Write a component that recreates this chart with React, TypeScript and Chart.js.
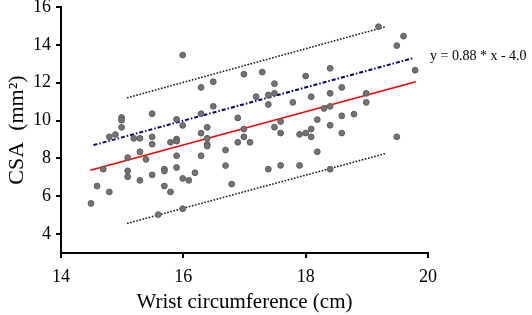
import React, { useEffect, useRef } from "react";
import { Chart, registerables } from "chart.js";

Chart.register(...registerables);

const wrist = [
  14.49, 14.59, 14.69, 14.79, 14.79, 14.89, 14.99, 14.99, 14.99, 15.09,
  15.09, 15.09, 15.19, 15.29, 15.29, 15.29, 15.39, 15.49, 15.49, 15.49,
  15.49, 15.59, 15.69, 15.69, 15.69, 15.79, 15.79, 15.89, 15.89, 15.89,
  15.89, 15.89, 15.99, 15.99, 15.99, 15.99, 16.09, 16.19, 16.29, 16.29,
  16.29, 16.29, 16.39, 16.39, 16.39, 16.39, 16.49, 16.49, 16.69, 16.69,
  16.79, 16.89, 16.89, 16.99, 16.99, 16.99, 17.09, 17.19, 17.29, 17.39,
  17.39, 17.39, 17.49, 17.49, 17.49, 17.59, 17.59, 17.59, 17.79, 17.9,
  17.9, 18.0, 18.0, 18.09, 18.09, 18.09, 18.19, 18.19, 18.3, 18.4,
  18.4, 18.4, 18.4, 18.4, 18.59, 18.59, 18.59, 18.79, 18.99, 18.99,
  19.19, 19.49, 19.49, 19.6, 19.79,
];
const csa = [
  5.62, 6.54, 7.43, 6.23, 9.14, 9.26, 10.16, 10.02, 9.64, 8.04,
  7.34, 7.03, 9.06, 9.06, 8.35, 6.84, 7.95, 10.36, 9.14, 8.75,
  7.13, 5.03, 7.43, 7.33, 6.54, 8.85, 6.23, 10.06, 9.02, 8.91,
  8.14, 7.52, 13.46, 9.74, 6.94, 5.34, 6.84, 7.24, 11.75, 10.36,
  9.33, 8.14, 9.64, 9.06, 8.74, 8.65, 12.05, 10.75, 8.44, 7.62,
  6.64, 10.14, 8.85, 12.45, 9.55, 9.14, 8.85, 11.26, 12.56, 11.35,
  10.85, 7.43, 11.95, 11.44, 9.65, 9.95, 9.34, 7.63, 10.96, 9.27,
  7.63, 12.35, 9.34, 11.26, 9.55, 9.14, 10.05, 8.35, 10.64, 12.76,
  11.44, 10.75, 9.75, 7.43, 11.75, 10.25, 9.34, 10.34, 11.44, 10.96,
  14.96, 13.96, 9.14, 14.46, 12.66,
];

const fitX = [14.48, 19.8];
const fitY = [7.37, 12.05];
const eqX = [14.53, 19.75];
const eqY = [8.7, 13.29];
const upperX = [15.08, 19.31];
const upperY = [11.2, 14.96];
const lowerX = [15.08, 19.31];
const lowerY = [4.56, 8.26];

const xTicks = [14, 16, 18, 20];
const yTicks = [4, 6, 8, 10, 12, 14, 16];
const equationLabel = "y = 0.88 * x - 4.0";

const FONT = '"Liberation Serif", "Times New Roman", serif';

const pts = (xs: number[], ys: number[]) => xs.map((x, i) => ({ x, y: ys[i] }));

export default function App() {
  const ref = useRef<HTMLCanvasElement | null>(null);

  useEffect(() => {
    if (!ref.current) return;
    const eqPlugin = {
      id: "eqLabel",
      afterDraw(chart: any) {
        const ctx = chart.ctx;
        ctx.save();
        ctx.font = `14px ${FONT}`;
        ctx.fillStyle = "#000";
        ctx.textAlign = "left";
        ctx.textBaseline = "middle";
        ctx.fillText(equationLabel, 430, 56);
        ctx.restore();
      },
    };
    const chart = new Chart(ref.current, {
      type: "scatter",
      data: {
        datasets: [
          {
            data: pts(wrist, csa),
            backgroundColor: "#737373",
            borderColor: "#5a5a5a",
            borderWidth: 1,
            pointRadius: 2.9,
          },
          {
            data: pts(fitX, fitY),
            showLine: true,
            borderColor: "#ff0000",
            borderWidth: 1.5,
            pointRadius: 0,
          },
          {
            data: pts(eqX, eqY),
            showLine: true,
            borderColor: "#00006e",
            borderWidth: 2,
            borderDash: [4, 2, 1.5, 2],
            pointRadius: 0,
          },
          {
            data: pts(upperX, upperY),
            showLine: true,
            borderColor: "#1a1a1a",
            borderWidth: 1.6,
            borderDash: [1.6, 1.6],
            pointRadius: 0,
          },
          {
            data: pts(lowerX, lowerY),
            showLine: true,
            borderColor: "#1a1a1a",
            borderWidth: 1.6,
            borderDash: [1.6, 1.6],
            pointRadius: 0,
          },
        ],
      },
      options: {
        animation: false,
        responsive: false,
        devicePixelRatio: 1,
        layout: { padding: { top: 7, right: 104, left: 0, bottom: 0 } },
        plugins: {
          legend: { display: false },
          tooltip: { enabled: false },
        },
        scales: {
          x: {
            type: "linear",
            min: 14,
            max: 20,
            afterBuildTicks: (s: any) => {
              s.ticks = xTicks.map((v) => ({ value: v }));
            },
            afterFit: (s: any) => {
              s.height = 62;
              s.paddingLeft = 0;
              s.paddingRight = 0;
            },
            grid: {
              drawOnChartArea: false,
              drawTicks: true,
              tickLength: 5,
              color: "#000",
              lineWidth: 2,
            },
            border: { display: true, color: "#000", width: 2 },
            ticks: {
              color: "#000",
              padding: 8,
              font: { family: FONT, size: 18 },
            },
            title: {
              display: true,
              text: "Wrist circumference (cm)",
              color: "#000",
              font: { family: FONT, size: 21 },
              padding: { top: 0, bottom: 0 },
            },
          },
          y: {
            type: "linear",
            min: 3,
            max: 16,
            afterBuildTicks: (s: any) => {
              s.ticks = yTicks.map((v) => ({ value: v }));
            },
            afterFit: (s: any) => {
              s.width = 61;
              s.paddingTop = 0;
              s.paddingBottom = 0;
            },
            grid: {
              drawOnChartArea: false,
              drawTicks: true,
              tickLength: 5,
              color: "#000",
              lineWidth: 2,
            },
            border: { display: true, color: "#000", width: 2 },
            ticks: {
              color: "#000",
              padding: 5,
              font: { family: FONT, size: 18 },
            },
            title: {
              display: true,
              text: "CSA  (mm²)",
              color: "#000",
              font: { family: FONT, size: 22 },
              padding: { top: 4, bottom: 4 },
            },
          },
        },
      },
      plugins: [eqPlugin],
    } as any);
    return () => chart.destroy();
  }, []);

  return (
    <div style={{ position: "fixed", left: 0, top: 0, width: 532, height: 315, background: "#fff" }}>
      <canvas ref={ref} width={532} height={315} style={{ width: 532, height: 315, display: "block" }} />
    </div>
  );
}
